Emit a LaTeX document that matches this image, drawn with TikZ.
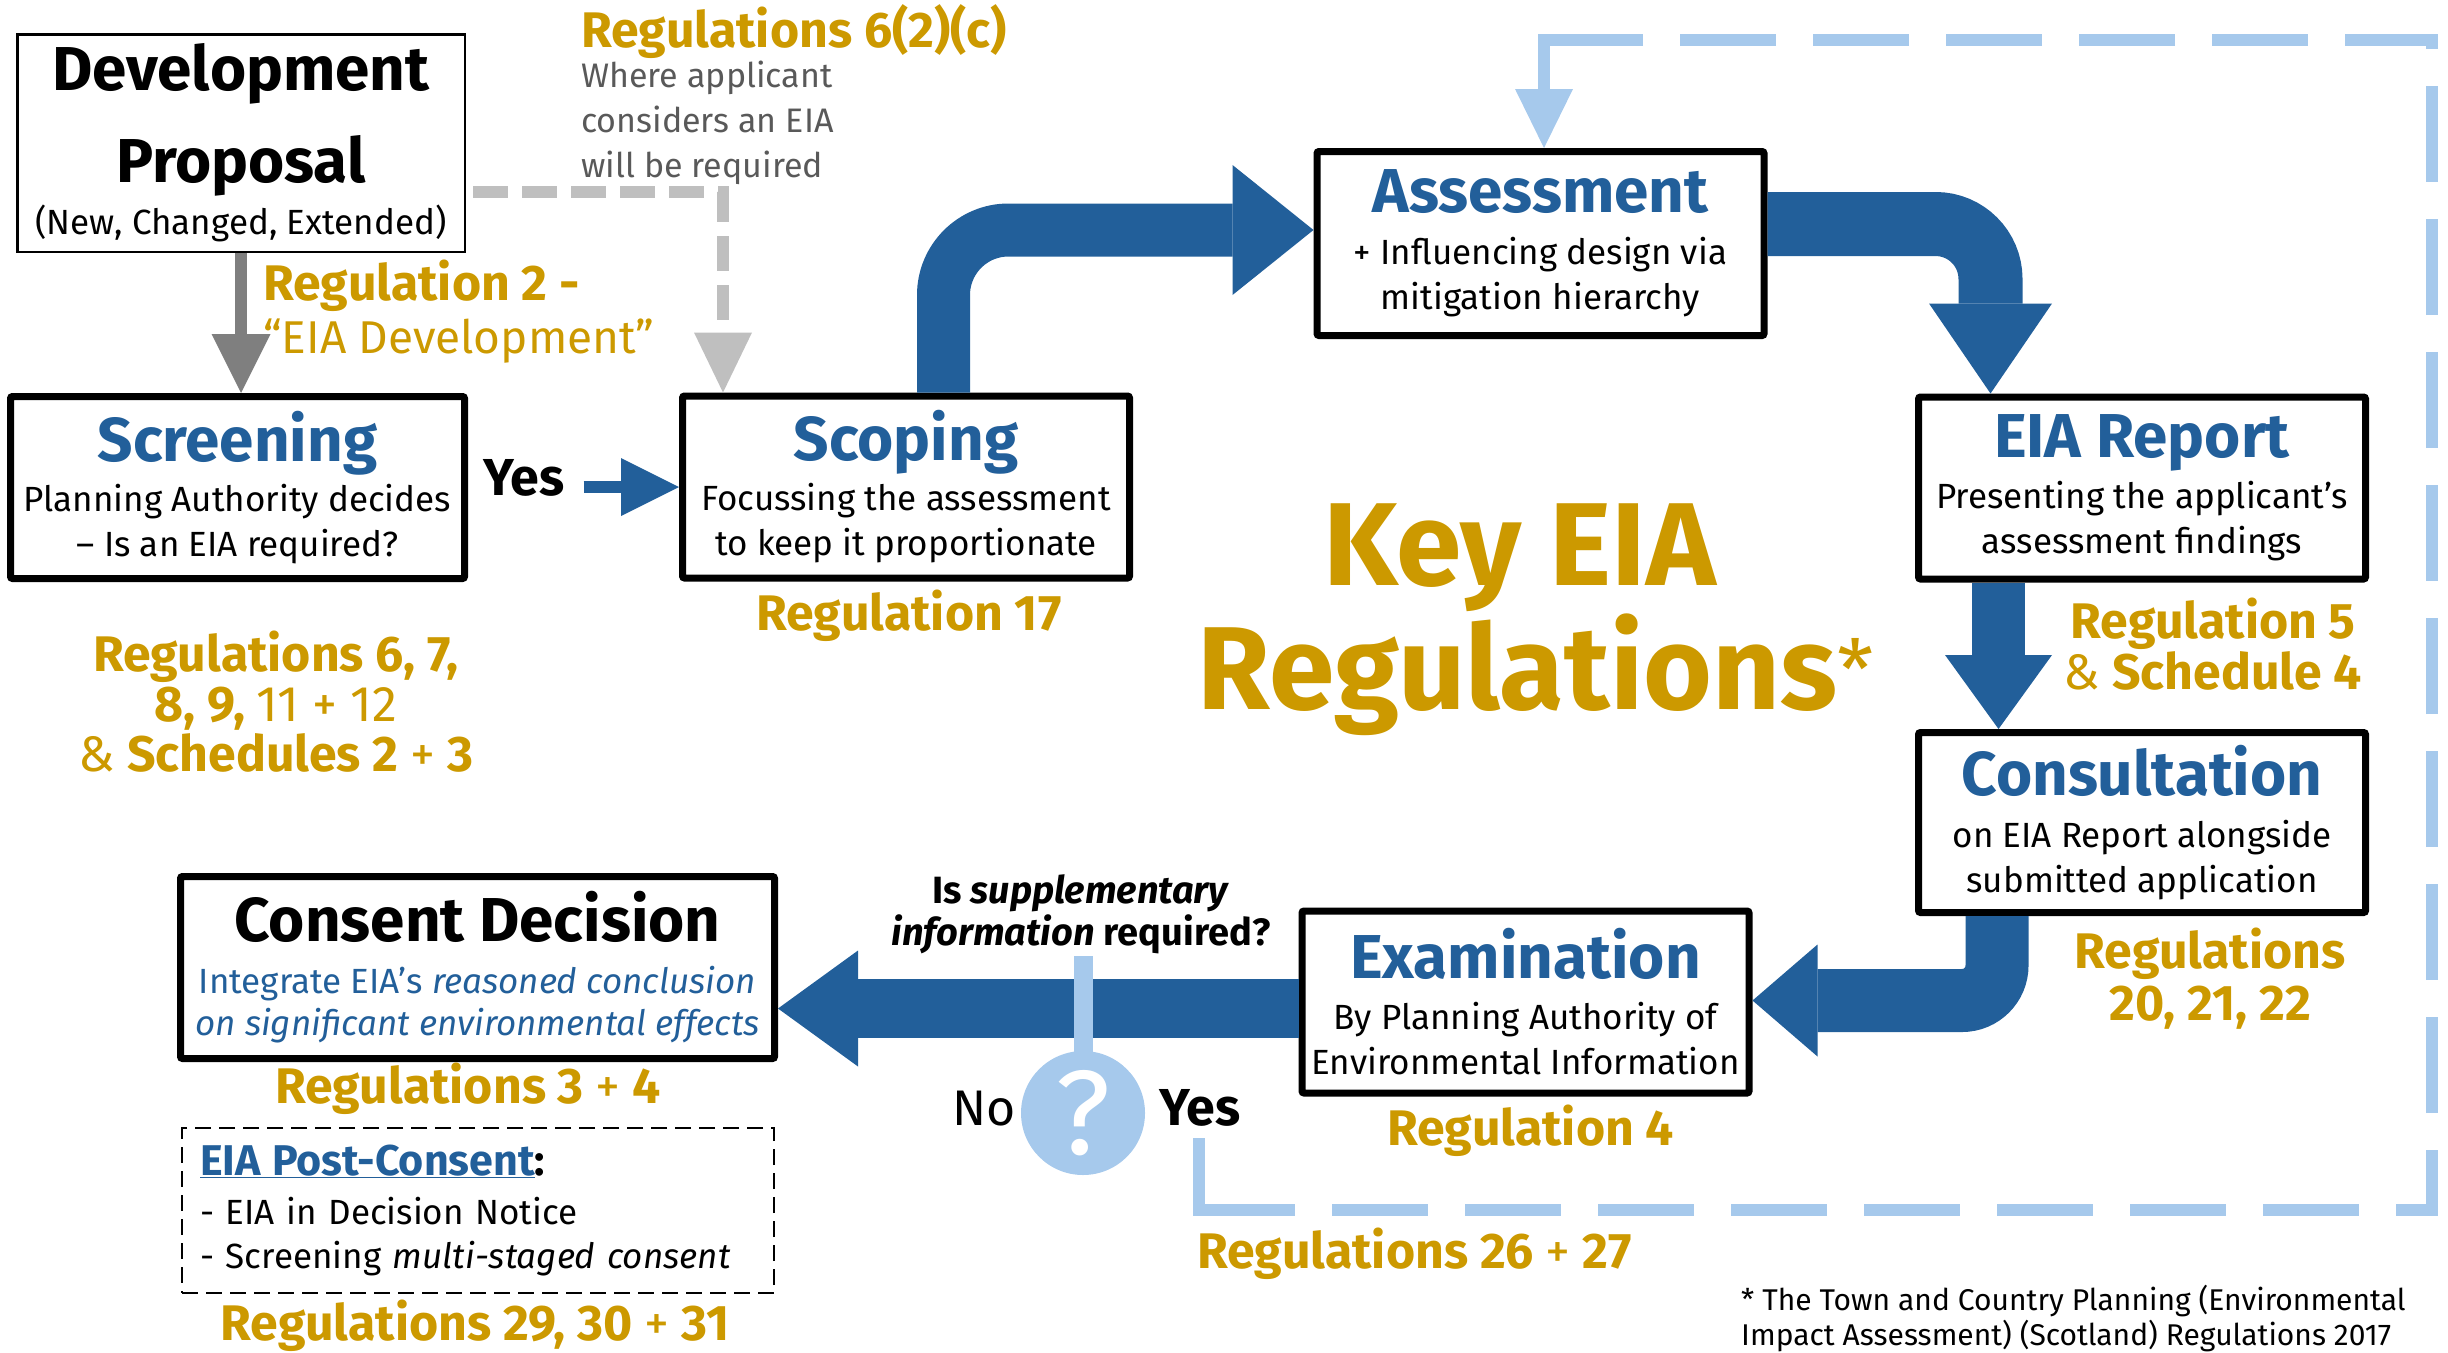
\documentclass[tikz,border=0pt]{standalone}
\usepackage{fontspec}
\setmainfont{Fira Sans}
\usetikzlibrary{arrows.meta}

\definecolor{eiablue}{RGB}{34,95,154}
\definecolor{eiagold}{RGB}{204,153,0}
\definecolor{eialight}{RGB}{166,201,236}
\definecolor{arrowgrey}{RGB}{127,127,127}
\definecolor{dashgrey}{RGB}{191,191,191}
\definecolor{notegrey}{RGB}{89,89,89}

\newcommand{\subsize}{\fontsize{35}{45}\selectfont}
\newcommand{\regsize}{\fontsize{50}{50}\selectfont\bfseries}
\newcommand{\stagetitle}[2][eiablue]{{\fontsize{62}{62}\selectfont\bfseries\color{#1}#2}}

\tikzset{
  stage/.style={draw, line width=7pt, fill=white, rounded corners=2pt,
    align=center, inner sep=0pt, font=\subsize,
    minimum width=447pt, minimum height=182pt},
  golden/.style={text=eiagold, font=\regsize, inner sep=0pt, align=center},
  plain/.style={inner sep=0pt, font=\fontsize{50}{50}\selectfont},
  flow/.style={draw=eiablue, line width=#1},
  fbline/.style={draw=eialight, line width=12pt},
}

\begin{document}
\begin{tikzpicture}[x=1pt,y=-1pt]
  \useasboundingbox (0,0) rectangle (2448,1352);

  % stages
  \node[draw, line width=2.5pt, fill=white, align=center, inner sep=0pt, font=\subsize,
        minimum width=447.5pt, minimum height=217.5pt] (dev) at (241,143)
        {\stagetitle[black]{Development}\\[30pt]\stagetitle[black]{Proposal}\\[7pt](New, Changed, Extended)};
  \node[stage, minimum width=454pt] (screening) at (237.5,487.5)
        {\stagetitle{Screening}\\[5pt]Planning Authority decides\\– Is an EIA required?};
  \node[stage] (scoping) at (906,487)
        {\stagetitle{Scoping}\\[5pt]Focussing the assessment\\to keep it proportionate};
  \node[stage, minimum height=184pt] (assessment) at (1540.5,243.5)
        {\stagetitle{Assessment}\\[7pt]+ Influencing design via\\mitigation hierarchy};
  \node[stage] (eiareport) at (2142,488)
        {\stagetitle{EIA Report}\\[6pt]Presenting the applicant’s\\assessment findings};
  \node[stage, minimum height=180pt] (consultation) at (2142,822.5)
        {\stagetitle{Consultation}\\[7pt]on EIA Report alongside\\submitted application};
  \node[stage] (examination) at (1525.5,1002)
        {\stagetitle{Examination}\\[6pt]By Planning Authority of\\Environmental Information};
  \node[stage, minimum width=594pt] (consent) at (477.5,967.5)
        {\stagetitle[black]{Consent Decision}\\[7pt]\textcolor{eiablue}{Integrate EIA’s \textit{reasoned conclusion}}\\[-3pt]\textcolor{eiablue}{\textit{on significant environmental effects}}};
  \node[draw, line width=2pt, dash pattern=on 16pt off 8pt, inner xsep=18pt, inner ysep=0pt,
        text width=556pt, minimum height=165pt, align=left, font=\fontsize{35}{44}\selectfont] (postconsent) at (478,1210.5)
        {{\fontsize{43}{43}\selectfont\bfseries\textcolor{eiablue}{\underline{EIA Post-Consent}}:}\\[5pt]- EIA in Decision Notice\\- Screening \textit{multi-staged consent}};

  % main flow
  \draw[flow=53pt, rounded corners=65pt, -{Triangle[length=81pt,width=130pt,line width=0pt]}]
    ([xshift=37.5pt]scoping.north) |- ([yshift=13.5pt]assessment.west);
  \draw[flow=64pt, rounded corners=55pt, -{Triangle[length=90pt,width=123pt,line width=0pt]}]
    ([yshift=19.5pt]assessment.east) -| ([xshift=-151.5pt]eiareport.north);
  \draw[flow=53pt, -{Triangle[length=74pt,width=107pt,line width=0pt]}]
    ([xshift=-143.5pt]eiareport.south) -- ([xshift=-143.5pt]consultation.north);
  \draw[flow=63pt, rounded corners=35pt, -{Triangle[length=65pt,width=112pt,line width=0pt]}]
    ([xshift=-145pt]consultation.south) |- ([yshift=1.5pt]examination.east);
  \draw[flow=59pt, -{Triangle[length=80pt,width=116pt,line width=0pt]}]
    ([yshift=-6.5pt]examination.west) -- ([yshift=-6.5pt]examination.west -| consent.east);

  % screening route
  \draw[draw=arrowgrey, line width=12pt, -{Triangle[length=59pt,width=59pt,line width=0pt]}]
    (dev.south) -- (dev.south |- screening.north);
  \draw[draw=dashgrey, line width=12pt, dash pattern=on 35pt off 14pt, shorten <=7pt,
        -{Triangle[length=60pt,width=58pt,line width=0pt]}]
    ([yshift=-49pt]dev.east) -| ([xshift=-183pt]scoping.north);
  \node[plain, font=\fontsize{52}{52}\selectfont\bfseries, anchor=base west] (yes1) at (483,495) {Yes};
  \draw[flow=12pt, shorten <=19pt, -{Triangle[length=58pt,width=58pt,line width=0pt]}]
    (yes1.east |- scoping.west) -- (scoping.west);

  % supplementary information loop
  \node[plain, font=\fontsize{38}{42}\selectfont\bfseries, anchor=north, align=center] (supp) at (1081,874)
    {Is \textit{supplementary}\\\textit{information} required?};
  \coordinate (qtop) at (1083,956);
  \coordinate (qcen) at (1083,1113);
  \draw[draw=eialight, line width=19pt] (qtop) -- (qcen);
  \node[circle, fill=eialight, minimum size=124pt, inner sep=0pt, text=white,
        font=\fontsize{120}{120}\selectfont] (qmark) at (qcen) {?};
  \node[plain, anchor=base west] (no) at (952,1125) {No};
  \node[plain, font=\fontsize{52}{52}\selectfont\bfseries, anchor=base west] (yes2) at (1159,1125) {Yes};
  \coordinate (fbA) at (1199,1210);
  \coordinate (fbB) at (2432,1210);
  \coordinate (fbC) at (2432,40);
  \coordinate (fbD) at (1544,40);
  \draw[fbline, shorten <=12pt, shorten >=-6pt] (fbA |- yes2.south) -- (fbA);
  \draw[fbline, dash pattern=on 96pt off 37pt] (fbA) -- (fbB) -- (fbC) -- (fbD);
  \draw[fbline, shorten <=-6pt, -{Triangle[length=59pt,width=58pt,line width=0pt]}]
    (fbD) -- (fbD |- assessment.north);

  % regulations
  \node[golden, anchor=base west] (reg6) at (581,47) {Regulations 6(2)(c)};
  \node[inner sep=0pt, anchor=north west, align=left, text=notegrey, font=\fontsize{34}{45}\selectfont] (where) at (581,61)
    {Where applicant\\considers an EIA\\will be required};
  \node[golden, anchor=north west, align=left] (reg2) at (263,260)
    {Regulation 2 -\\[3pt]{\fontsize{46}{50}\selectfont\mdseries “EIA Development”}};
  \node[golden, anchor=north] (reg6to12) at (276,631)
    {Regulations 6, 7,\\8, 9, \textmd{11 + 12}\\\textmd{\&} Schedules 2 \textmd{+} 3};
  \node[golden, anchor=base west] (reg17) at (756,630) {Regulation 17};
  \node[golden, anchor=north] (reg5) at (2213,598) {Regulation 5\\[1pt]\textmd{\&} Schedule 4};
  \node[golden, anchor=north] (reg20) at (2210,928) {Regulations\\[2pt]20, 21, 22};
  \node[golden, anchor=base west] (reg4) at (1387,1145) {Regulation 4};
  \node[golden, anchor=base west] (reg26) at (1197,1268) {Regulations 26 \textmd{+} 27};
  \node[golden, anchor=base] (reg3) at (468,1103) {Regulations 3 \textmd{+} 4};
  \node[golden, anchor=base] (reg29) at (475,1340) {Regulations 29, 30 \textmd{+} 31};

  % title and footnote
  \node[golden, font=\fontsize{118}{120}\selectfont\bfseries, anchor=base] (keytitle) at (1520,585) {Key EIA};
  \node[golden, font=\fontsize{118}{120}\selectfont\bfseries, anchor=base] (keytitle2) at (1536,709) {Regulations\textsuperscript{\mdseries*}};
  \node[inner sep=0pt, anchor=north west, align=left, font=\fontsize{30}{35}\selectfont] (note) at (1741,1285)
    {* The Town and Country Planning (Environmental\\Impact Assessment) (Scotland) Regulations 2017};
\end{tikzpicture}
\end{document}
